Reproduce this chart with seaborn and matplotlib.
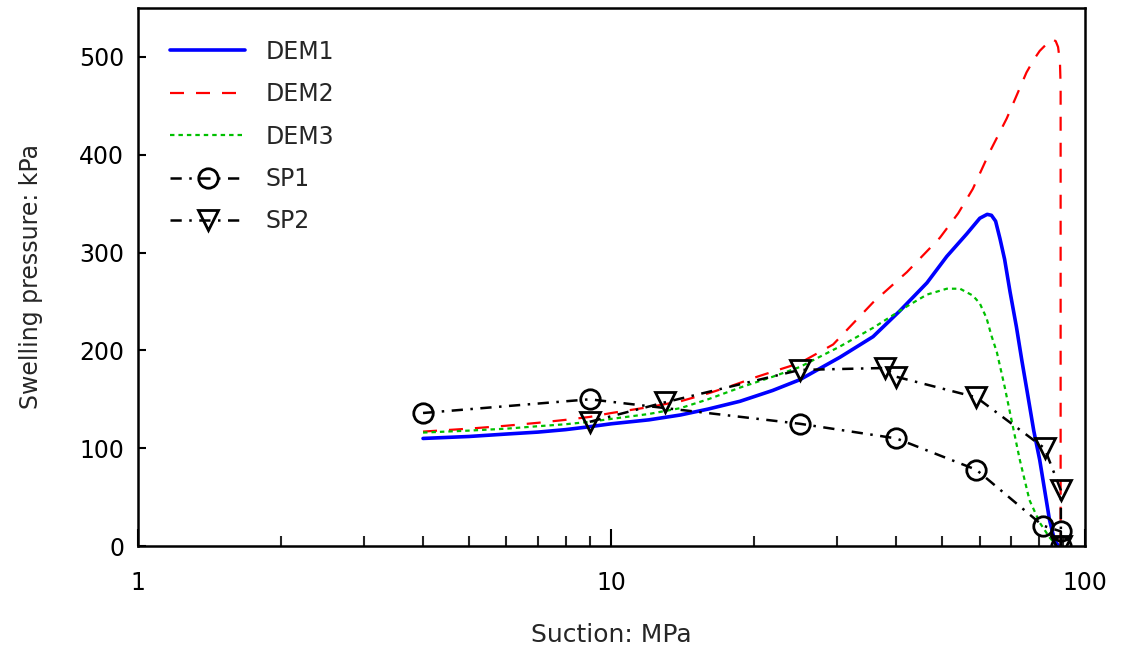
import seaborn as sns
import matplotlib.pyplot as plt
import pandas as pd
import numpy as np

# data
dem1_x = [4, 5, 6, 7, 8, 9, 10, 12, 14, 16, 18.7, 21.9, 25, 30.4, 35.7, 40.6, 46.4,
          51.1, 56.3, 60, 62.2, 63.5, 64.8, 66.2, 67.7, 69.5, 71.7, 73.6, 75.6, 78,
          80.3, 82.2, 84.2, 86.3, 88]
dem1_y = [110, 112, 114.5, 116.5, 119, 122, 125, 129, 134, 140, 148, 159, 170, 193, 214,
          240, 269, 296, 319, 335, 339, 338, 332, 314, 293, 260, 224, 190, 157, 118,
          88, 58, 27, 6, 0]

dem2_x = [4, 5, 6, 7, 8, 9, 10, 12, 14, 16, 18, 20.3, 22.5, 25, 29.4, 35.7, 42.1, 49.4,
          54, 58, 63, 68.4, 71.7, 75.3, 78, 80.3, 83, 85.2, 86.8, 87.8, 88.6, 88.9, 88.9]
dem2_y = [117, 120, 123, 126, 129, 132, 136, 142, 148, 156, 164, 173, 180, 187, 206, 249,
          280, 315, 340, 365, 403, 437, 460, 484, 497, 506, 513, 518, 516, 510, 495, 470, 0]

dem3_x = [4, 5, 6, 7, 8, 9, 10, 12, 14, 16, 18.7, 21.9, 25, 30.4, 35.7, 42.1, 46.4, 51.1,
          54.5, 58, 60, 62, 63.5, 65.2, 67.7, 70, 72.9, 76.4, 80.3, 84.2, 86.3, 87]
dem3_y = [116, 118, 120, 122.5, 124.5, 127, 130, 135, 141, 150, 162, 173, 183, 204, 223,
          245, 257, 263, 263, 256, 248, 233, 215, 198, 163, 129, 88, 47, 24, 9, 3, 0]

sp1_x = [4, 9, 25, 40, 59, 81.5, 89, 89]
sp1_y = [136, 150, 125, 110, 78, 21, 15, 0]

sp2_x = [9, 13, 25, 37.8, 40, 59, 82.2, 89, 89]
sp2_y = [127, 147, 180, 182, 173, 152, 100, 57, 0]

sns.set_style("white")
plt.rcParams["font.family"] = ["DejaVu Sans"]

fig = plt.figure(figsize=(11.23, 6.54), dpi=100)
ax = fig.add_axes([0.1229, 0.165, 0.8431, 0.823])

sns.lineplot(x=dem1_x, y=dem1_y, ax=ax, color="#0000ff", lw=2.6, sort=False,
             estimator=None, label="DEM1")
sns.lineplot(x=dem2_x, y=dem2_y, ax=ax, color="#ff0000", lw=1.6, sort=False,
             estimator=None, label="DEM2")
ax.lines[-1].set_dashes([6.3, 5.4])
sns.lineplot(x=dem3_x, y=dem3_y, ax=ax, color="#00c000", lw=1.6, sort=False,
             estimator=None, label="DEM3")
ax.lines[-1].set_dashes([2, 1.8])
sns.lineplot(x=sp1_x, y=sp1_y, ax=ax, color="black", lw=1.8, sort=False,
             estimator=None, label="SP1", marker="o", markersize=14,
             markerfacecolor="none", markeredgecolor="black", markeredgewidth=2)
ax.lines[-1].set_dashes([4.5, 3, 1, 3])
sns.lineplot(x=sp2_x, y=sp2_y, ax=ax, color="black", lw=1.8, sort=False,
             estimator=None, label="SP2", marker="v", markersize=14,
             markerfacecolor="none", markeredgecolor="black", markeredgewidth=2)
ax.lines[-1].set_dashes([4.5, 3, 1, 3])

ax.set_xscale("log")
ax.set_xlim(1, 100)
ax.set_ylim(0, 550)
ax.set_yticks([0, 100, 200, 300, 400, 500])
ax.set_xticks([1, 10, 100])
ax.set_xticklabels(["1", "10", "100"])

ax.tick_params(axis="both", which="major", direction="in", labelsize=17,
               top=False, right=False, bottom=True, left=True, width=1.5,
               colors="black")
ax.tick_params(axis="x", which="major", length=12, pad=18)
ax.tick_params(axis="y", which="major", length=6, pad=10)
ax.tick_params(axis="x", which="minor", direction="in", length=7, width=1.5,
               bottom=True, top=False)

for s in ax.spines.values():
    s.set_color("black")
    s.set_linewidth(1.8)

ax.set_xlabel("Suction: MPa", fontsize=18, labelpad=20)
ax.set_ylabel("Swelling pressure: kPa", fontsize=17, labelpad=26)

leg = ax.legend(loc="upper left", frameon=False, fontsize=17, handlelength=3.2,
                handletextpad=0.85, labelspacing=0.78, borderaxespad=1.15,
                borderpad=0.2)

fig.savefig("out.png", dpi=100)
